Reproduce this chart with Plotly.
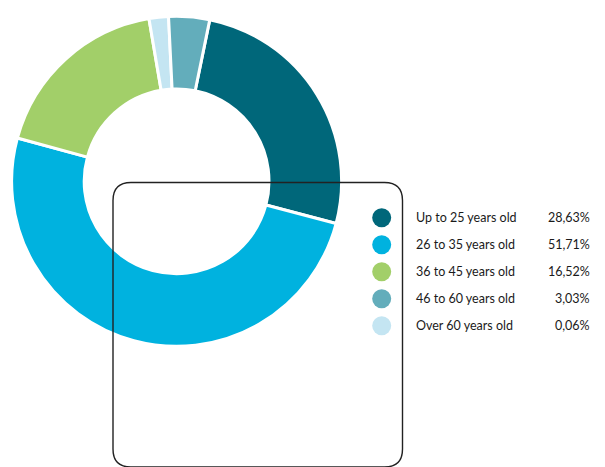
import plotly.graph_objects as go

# Legend data (as printed)
categories = ["Up to 25 years old", "26 to 35 years old", "36 to 45 years old",
              "46 to 60 years old", "Over 60 years old"]
legend_pcts = ["28,63%", "51,71%", "16,52%", "3,03%", "0,06%"]
colors = ["#00677A", "#00B2DF", "#A2CF69", "#63ADBB", "#C4E5F2"]

# Slice shares as drawn in the donut (clockwise order from the top-right)
slice_order = ["Up to 25 years old", "26 to 35 years old", "36 to 45 years old",
               "Over 60 years old", "46 to 60 years old"]
slice_values = [25.9, 50.1, 18.1, 1.9, 4.0]

W, H = 605, 467
color_map = dict(zip(categories, colors))

fig = go.Figure()

# donut
cx, cy, R = 176.6, 181.3, 165.0
fig.add_trace(go.Pie(
    labels=slice_order, values=slice_values,
    marker=dict(colors=[color_map[c] for c in slice_order],
                line=dict(color="white", width=3)),
    hole=0.56, sort=False, direction="clockwise", rotation=11.6,
    textinfo="none", hoverinfo="label+value", showlegend=False,
    domain=dict(x=[(cx - R) / W, (cx + R) / W],
                y=[(H - cy - R) / H, (H - cy + R) / H]),
))

# custom legend
ly0, lstep = 217.7, 27.0
ys = [ly0 + i * lstep for i in range(len(categories))]
fig.add_trace(go.Scatter(
    x=[381.7] * len(categories), y=ys, mode="markers",
    marker=dict(size=19, color=colors, line=dict(width=0)),
    hoverinfo="skip", showlegend=False, xaxis="x", yaxis="y",
))
for cat, pct, y in zip(categories, legend_pcts, ys):
    fig.add_annotation(x=414, y=y, text=cat, showarrow=False, xanchor="left",
                       yanchor="middle", xref="x", yref="y",
                       font=dict(size=12.5, color="#1a1a1a", family="Lato"))
    fig.add_annotation(x=592, y=y, text=pct, showarrow=False, xanchor="right",
                       yanchor="middle", xref="x", yref="y",
                       font=dict(size=12.5, color="#1a1a1a", family="Lato"))

# rounded box outline
x0, x1, y0, y1, r = 113, 402.5, 182.5, 467, 18
path = (f"M {x0+r},{y0} L {x1-r},{y0} Q {x1},{y0} {x1},{y0+r} "
        f"L {x1},{y1-r} Q {x1},{y1} {x1-r},{y1} L {x0+r},{y1} "
        f"Q {x0},{y1} {x0},{y1-r} L {x0},{y0+r} Q {x0},{y0} {x0+r},{y0} Z")
fig.add_shape(type="path", path=path, xref="x", yref="y", layer="above",
              line=dict(color="#222222", width=1.4))

fig.update_layout(
    width=W, height=H, margin=dict(l=0, r=0, t=0, b=0),
    paper_bgcolor="white", plot_bgcolor="rgba(0,0,0,0)",
    xaxis=dict(range=[0, W], visible=False, fixedrange=True),
    yaxis=dict(range=[H, 0], visible=False, fixedrange=True),
    showlegend=False,
)

fig.write_html(
    "out.html",
    config={"displayModeBar": False},
    post_script="document.body.style.margin='0';document.body.style.overflow='hidden';",
)
